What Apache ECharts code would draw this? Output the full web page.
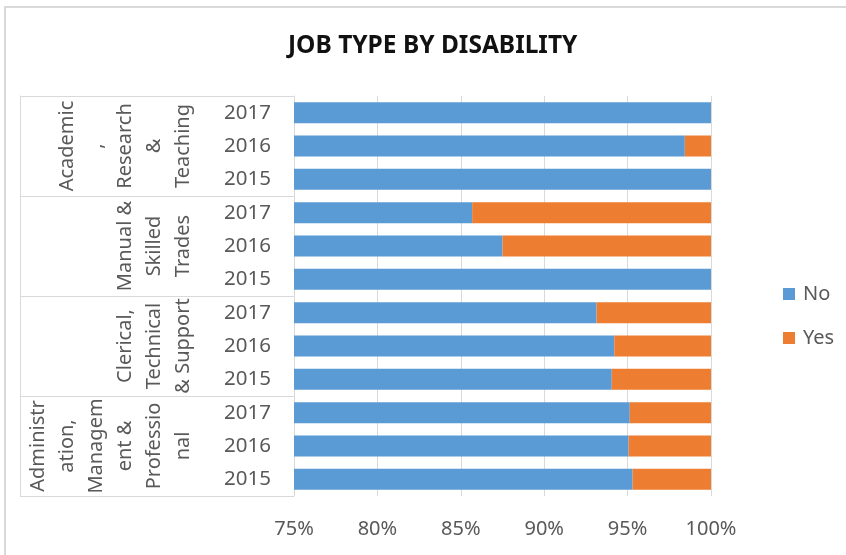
<!DOCTYPE html>
<html>
<head>
<meta charset="utf-8">
<script src="https://cdn.jsdelivr.net/npm/echarts@6/dist/echarts.min.js"></script>
<style>
  html, body { margin: 0; padding: 0; background: #fff; }
  #frame { position: absolute; left: 4px; top: 6px; width: 900px; height: 600px;
           border-left: 2px solid #d9d9d9; border-top: 2px solid #d9d9d9; }
  #chart { position: absolute; left: 0; top: 0; width: 846px; height: 555px; }
</style>
</head>
<body>
<div id="frame"></div>
<div id="chart"></div>
<script>
// rows bottom -> top (echarts puts the first category at the bottom)
const years = ['2015', '2016', '2017', '2015', '2016', '2017',
               '2015', '2016', '2017', '2015', '2016', '2017'];
const groupLabels = [
    'Administr\nation,\nManagem\nent &\nProfessio\nnal',
    'Clerical,\nTechnical\n& Support',
    'Manual &\nSkilled\nTrades',
    'Academic\n,\nResearch\n&\nTeaching'
];
const noValues  = [95.3, 95.06, 95.13, 94.05, 94.2, 93.14, 100, 87.5, 85.68, 100, 98.43, 100];
const yesValues = [4.7, 4.94, 4.87, 5.95, 5.8, 6.86, 0, 12.5, 14.32, 0, 1.57, 0];
const xTicks = { min: 75, max: 100, step: 5 };

const font = 'Noto Sans';
const txt = '#595959';
const line = '#d9d9d9';

const myChart = echarts.init(document.getElementById('chart'));

const option = {
    animation: false,
    textStyle: { fontFamily: font },
    title: {
        text: 'JOB TYPE BY DISABILITY',
        left: 283,
        top: 29,
        textStyle: { fontFamily: font, fontSize: 24.5, fontWeight: 'bold', color: '#111' }
    },
    legend: {
        orient: 'vertical',
        left: 778,
        top: 279,
        icon: 'rect',
        itemWidth: 12,
        itemHeight: 12,
        itemGap: 24,
        textStyle: { fontFamily: font, fontSize: 20, color: txt, padding: [0, 0, 0, 3] },
        data: ['No', 'Yes']
    },
    grid: {
        left: 294,
        right: 135,
        top: 96,
        bottom: 59,
        containLabel: false
    },
    xAxis: {
        type: 'value',
        min: xTicks.min,
        max: xTicks.max,
        interval: xTicks.step,
        axisLine: { show: false },
        axisTick: { show: false },
        axisLabel: {
            formatter: '{value}%',
            fontFamily: font,
            fontSize: 20,
            color: txt,
            margin: 23
        },
        splitLine: { show: true, lineStyle: { color: line, width: 1 } }
    },
    yAxis: [
        {
            type: 'category',
            data: years,
            position: 'left',
            axisLine: { show: true, lineStyle: { color: line, width: 1 } },
            axisTick: { show: false },
            axisLabel: { fontFamily: font, fontSize: 20.5, color: txt, margin: 23 }
        },
        {
            type: 'category',
            data: groupLabels,
            position: 'left',
            axisLine: { show: false },
            axisTick: { show: true, length: 274, interval: 0, lineStyle: { color: line, width: 1 } },
            axisLabel: {
                rotate: 90,
                interval: 0,
                fontFamily: font,
                fontSize: 20,
                lineHeight: 29,
                color: txt,
                margin: 96
            }
        },
        {
            type: 'category',
            data: groupLabels,
            position: 'left',
            offset: 274,
            axisLine: { show: true, lineStyle: { color: line, width: 1 } },
            axisTick: { show: false },
            axisLabel: { show: false }
        }
    ],
    series: [
        {
            name: 'No',
            type: 'bar',
            stack: 'total',
            barWidth: 21,
            itemStyle: { color: '#5B9BD5' },
            data: noValues
        },
        {
            name: 'Yes',
            type: 'bar',
            stack: 'total',
            barWidth: 21,
            itemStyle: { color: '#ED7D31' },
            data: yesValues
        }
    ]
};

myChart.setOption(option);
window.addEventListener('resize', () => myChart.resize());
</script>
</body>
</html>
